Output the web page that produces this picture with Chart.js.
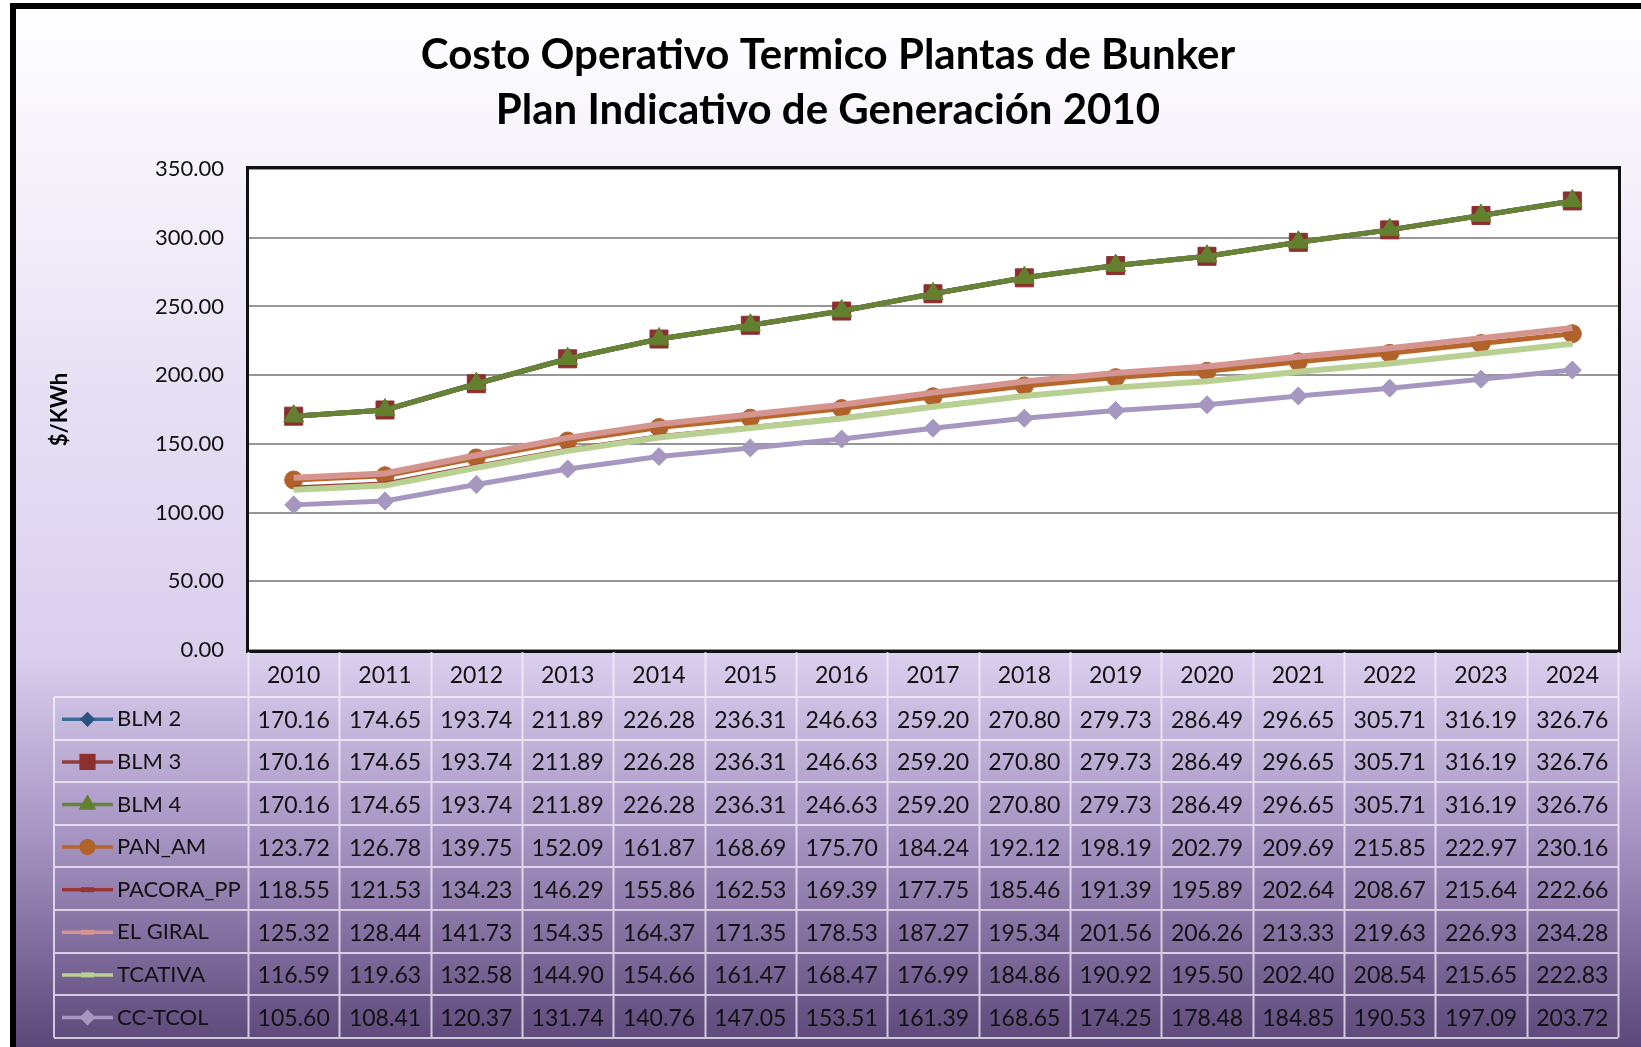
<!DOCTYPE html>
<html>
<head>
<meta charset="utf-8">
<title>Costo Operativo Termico Plantas de Bunker</title>
<script src="https://cdn.jsdelivr.net/npm/chart.js@4/dist/chart.umd.min.js"></script>
<style>
	html, body { margin: 0; padding: 0; background: #fff; }
	#chart { display: block; }
</style>
</head>
<body>
<canvas id="chart" width="1641" height="1047"></canvas>
<script>
'use strict';
// ---- data ----
const years = ['2010','2011','2012','2013','2014','2015','2016','2017','2018','2019','2020','2021','2022','2023','2024'];
const blm2 = [170.16,174.65,193.74,211.89,226.28,236.31,246.63,259.20,270.80,279.73,286.49,296.65,305.71,316.19,326.76];
const blm3 = [170.16,174.65,193.74,211.89,226.28,236.31,246.63,259.20,270.80,279.73,286.49,296.65,305.71,316.19,326.76];
const blm4 = [170.16,174.65,193.74,211.89,226.28,236.31,246.63,259.20,270.80,279.73,286.49,296.65,305.71,316.19,326.76];
const panAm = [123.72,126.78,139.75,152.09,161.87,168.69,175.70,184.24,192.12,198.19,202.79,209.69,215.85,222.97,230.16];
const pacora = [118.55,121.53,134.23,146.29,155.86,162.53,169.39,177.75,185.46,191.39,195.89,202.64,208.67,215.64,222.66];
const elGiral = [125.32,128.44,141.73,154.35,164.37,171.35,178.53,187.27,195.34,201.56,206.26,213.33,219.63,226.93,234.28];
const tcativa = [116.59,119.63,132.58,144.90,154.66,161.47,168.47,176.99,184.86,190.92,195.50,202.40,208.54,215.65,222.83];
const ccTcol = [105.60,108.41,120.37,131.74,140.76,147.05,153.51,161.39,168.65,174.25,178.48,184.85,190.53,197.09,203.72];
const seriesNames = ['BLM 2','BLM 3','BLM 4','PAN_AM','PACORA_PP','EL GIRAL','TCATIVA','CC-TCOL'];
const yMin = 0, yMax = 350, yStep = 50;
const titleLines = ['Costo Operativo Termico Plantas de Bunker', 'Plan Indicativo de Generación 2010'];
const yTitle = '$/KWh';

// ---- look ----
const FONT = 'Lato';
const styles = [
	{line: '#3d6a99', mark: '#2b5380', point: 'rectRot', r: 8.5, w: 5},
	{line: '#943d3d', mark: '#8b2f2f', point: 'rect', r: 12.7, w: 5},
	{line: '#668436', mark: '#63802f', point: 'triangle', r: 11.5, w: 5},
	{line: '#b8672b', mark: '#b0622a', point: 'circle', r: 9, w: 5},
	{line: '#9b3535', mark: '#9b3535', point: false, r: 0, w: 3},
	{line: '#d49490', mark: '#d49490', point: false, r: 0, w: 6},
	{line: '#b8d092', mark: '#b8d092', point: false, r: 0, w: 6},
	{line: '#a597bf', mark: '#a597bf', point: 'rectRot', r: 9, w: 5}
];
const allSeries = [blm2, blm3, blm4, panAm, pacora, elGiral, tcativa, ccTcol];

const datasets = allSeries.map((d, i) => ({
	label: seriesNames[i],
	data: d,
	borderColor: styles[i].line,
	backgroundColor: styles[i].mark,
	borderWidth: styles[i].w,
	pointStyle: styles[i].point || 'circle',
	pointRadius: styles[i].r,
	pointBackgroundColor: styles[i].mark,
	pointBorderColor: styles[i].mark,
	pointBorderWidth: 1,
	tension: 0,
	// excel paints later series on top
	order: allSeries.length - 1 - i
}));

// background, frame, white plot area
const backdrop = {
	id: 'backdrop',
	beforeDraw: (chart) => {
		const ctx = chart.ctx, W = chart.width, H = chart.height, a = chart.chartArea;
		ctx.save();
		ctx.fillStyle = '#ffffff';
		ctx.fillRect(0, 0, W, H);
		let g = ctx.createLinearGradient(0, 9, 0, H);
		g.addColorStop(0, '#fefeff');
		g.addColorStop(0.15, '#f6f3fb');
		g.addColorStop(0.38, '#e6dff4');
		g.addColorStop(0.62, '#dbcfee');
		g.addColorStop(0.8, '#a593c2');
		g.addColorStop(1, '#5b4879');
		ctx.fillStyle = g;
		ctx.fillRect(16, 9, W - 16, H - 9);
		ctx.fillStyle = '#000';
		ctx.fillRect(10, 3, 6, H - 3);
		ctx.fillRect(10, 3, W - 10, 6);
		ctx.fillStyle = '#ffffff';
		ctx.fillRect(a.left, a.top, a.right - a.left, a.bottom - a.top);
		ctx.restore();
	}
};

const drawMark = (ctx, style, x, y, r) => {
	if (Chart.helpers && Chart.helpers.drawPoint) {
		Chart.helpers.drawPoint(ctx, {pointStyle: style, radius: r, rotation: 0, borderWidth: 0}, x, y);
	} else {
		ctx.beginPath();
		ctx.arc(x, y, r, 0, Math.PI * 2);
		ctx.fill();
	}
};

// plot border + data table under the axis (excel "data table with legend keys")
const dataTable = {
	id: 'dataTable',
	afterDraw: (chart) => {
		const ctx = chart.ctx, a = chart.chartArea, xs = chart.scales.x;
		const colW = (a.right - a.left) / years.length;
		const headTop = a.bottom, headH = 47, rowH = 42.6;
		const rowsTop = headTop + headH, rowsBottom = rowsTop + rowH * allSeries.length;
		const legLeft = 54;
		ctx.save();
		// border round the plot
		ctx.strokeStyle = '#111';
		ctx.lineWidth = 3;
		ctx.strokeRect(a.left - 0.5, a.top - 1.5, a.right - a.left + 2, a.bottom - a.top + 3);

		// grid of the table
		ctx.strokeStyle = 'rgba(245,242,250,0.75)';
		ctx.lineWidth = 2;
		ctx.beginPath();
		for (let i = 0; i <= years.length; i++) {
			let x = Math.round(a.left + i * colW) + 0.5;
			ctx.moveTo(x, headTop + 2);
			ctx.lineTo(x, rowsBottom);
		}
		ctx.moveTo(legLeft, rowsTop);
		ctx.lineTo(legLeft, rowsBottom);
		for (let r = 0; r <= allSeries.length; r++) {
			let y = Math.round(rowsTop + r * rowH);
			ctx.moveTo(legLeft, y);
			ctx.lineTo(a.right, y);
		}
		ctx.stroke();

		// years
		ctx.fillStyle = '#111';
		ctx.textAlign = 'center';
		ctx.textBaseline = 'middle';
		ctx.font = '23px ' + FONT;
		years.forEach((yr, i) => ctx.fillText(yr, xs.getPixelForValue(i), headTop + headH / 2 + 2));

		// rows
		allSeries.forEach((d, r) => {
			const cy = rowsTop + r * rowH + rowH / 2 + 1;
			ctx.font = '23px ' + FONT;
			ctx.textAlign = 'center';
			ctx.fillStyle = '#111';
			d.forEach((v, i) => ctx.fillText(v.toFixed(2), xs.getPixelForValue(i), cy + 1));
			// legend key
			const st = styles[r];
			ctx.strokeStyle = st.line;
			ctx.lineWidth = 3.5;
			ctx.beginPath();
			ctx.moveTo(62, cy);
			ctx.lineTo(113, cy);
			ctx.stroke();
			ctx.fillStyle = st.mark;
			if (st.point) drawMark(ctx, st.point, 87.5, cy, st.r * 0.9);
			else ctx.fillRect(81, cy - 2.5, 13, 5);
			ctx.fillStyle = '#111';
			ctx.textAlign = 'left';
			ctx.font = '22px ' + FONT;
			ctx.fillText(seriesNames[r], 117, cy);
		});
		ctx.restore();
	}
};

const load = () => {
	const c = document.getElementById('chart').getContext('2d');
	new Chart(c, {
		type: 'line',
		data: {labels: years, datasets: datasets},
		options: {
			responsive: false,
			devicePixelRatio: 1,
			animation: false,
			layout: {padding: {left: 38, right: 23, top: 0, bottom: 397}},
			plugins: {
				legend: {display: false},
				tooltip: {enabled: false},
				title: {
					display: true,
					text: titleLines,
					color: '#000',
					font: {family: FONT, size: 42, weight: 'bold', lineHeight: 55 / 42},
					padding: {top: 28, bottom: 31}
				}
			},
			scales: {
				x: {
					type: 'category',
					offset: true,
					display: false
				},
				y: {
					min: yMin,
					max: yMax,
					afterFit: (s) => { s.width = 210; },
					ticks: {
						stepSize: yStep,
						color: '#111',
						font: {family: FONT, size: 22},
						padding: 24,
						callback: (v) => Number(v).toFixed(2)
					},
					grid: {color: '#969696', lineWidth: 2, drawTicks: false},
					border: {display: false},
					title: {
						display: true,
						text: yTitle,
						color: '#000',
						font: {family: FONT, size: 22, weight: 'bold'},
						padding: {top: 9, bottom: 0}
					}
				}
			}
		},
		plugins: [backdrop, dataTable]
	});
};
window.addEventListener('load', () => load());
</script>
</body>
</html>
